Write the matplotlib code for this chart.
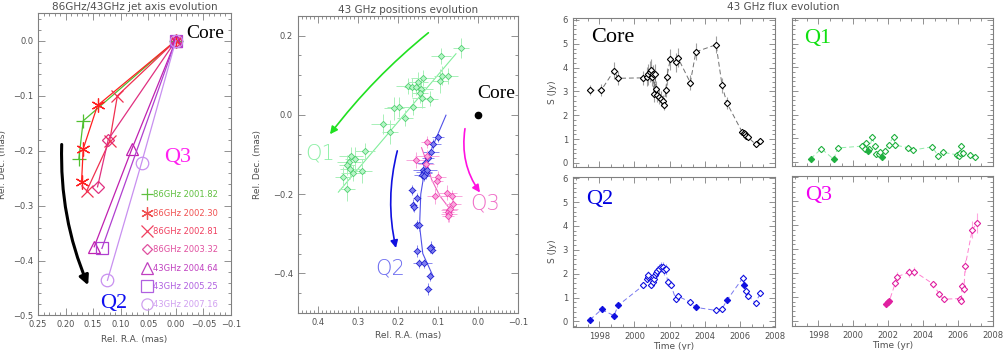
import numpy as np
import matplotlib.pyplot as plt
from matplotlib.patches import FancyArrowPatch
from matplotlib.lines import Line2D
from matplotlib.ticker import AutoMinorLocator, FixedLocator

plt.rcParams['font.family'] = ['DejaVu Sans']

GREY = '#505050'
AXC = '#808080'
SERIF = ['Liberation Serif', 'DejaVu Serif']

# ---------------- panel 1: jet axis per epoch ----------------
jet_labels = ['86GHz 2001.82', '86GHz 2002.30', '86GHz 2002.81', '86GHz 2003.32',
              '43GHz 2004.64', '43GHz 2005.25', '43GHz 2007.16']
jet_ra = [[0.0, 0.168, 0.176],
          [0.0, 0.142, 0.168, 0.171],
          [0.0, 0.106, 0.120, 0.162],
          [0.0, 0.1226, 0.142],
          [0.0, 0.080, 0.148],
          [0.0, 0.134],
          [0.0, 0.062, 0.124]]
jet_dec = [[0.0, -0.146, -0.216],
           [0.0, -0.118, -0.197, -0.258],
           [0.0, -0.1005, -0.183, -0.274],
           [0.0, -0.180, -0.266],
           [0.0, -0.198, -0.375],
           [0.0, -0.378],
           [0.0, -0.222, -0.436]]
jet_markers = ['+', (6, 2, 0), 'x', 'D', '^', 's', 'o']
jet_msize = [10, 10, 9, 6, 9, 9, 9]
jet_colors = ['#50C030', '#FF2020', '#F03050', '#E03080', '#C020B0', '#B040D0', '#C890F0']
jet_text_colors = ['#60C040', '#F05050', '#F04060', '#E050A0', '#C040C0', '#B060E0', '#D0A0F0']

arrow1_start = (0.207, -0.189)
arrow1_end = (0.159, -0.445)

# ---------------- panel 2: 43 GHz positions ----------------
q1_ra = [0.043, 0.093, 0.089, 0.076, 0.096, 0.137, 0.149, 0.174, 0.165, 0.156, 0.143,
         0.145, 0.120, 0.141, 0.162, 0.197, 0.210, 0.183, 0.237, 0.220, 0.283, 0.318,
         0.308, 0.3225, 0.328, 0.289, 0.312, 0.320, 0.337, 0.328]
q1_dec = [0.168, 0.149, 0.099, 0.097, 0.086, 0.093, 0.084, 0.073, 0.069, 0.069, 0.065,
          0.054, 0.041, 0.042, 0.019, 0.020, 0.016, -0.008, -0.024, -0.043, -0.091, -0.105,
          -0.112, -0.118, -0.127, -0.142, -0.146, -0.1375, -0.156, -0.188]
q1_era = [0.02, 0.025, 0.02, 0.025, 0.02, 0.03, 0.025, 0.03, 0.02, 0.025, 0.03,
          0.02, 0.02, 0.025, 0.03, 0.03, 0.025, 0.02, 0.03, 0.02, 0.025, 0.03,
          0.025, 0.03, 0.02, 0.025, 0.03, 0.025, 0.02, 0.02]
q1_edec = [0.025, 0.02, 0.025, 0.02, 0.03, 0.02, 0.025, 0.02, 0.025, 0.02, 0.03,
           0.025, 0.02, 0.025, 0.02, 0.025, 0.03, 0.02, 0.025, 0.03, 0.02, 0.025,
           0.03, 0.02, 0.025, 0.03, 0.02, 0.025, 0.025, 0.03]
q1_fit_ra = [0.349, 0.055]
q1_fit_dec = [-0.195, 0.154]

q2_ra = [0.101, 0.112, 0.118, 0.124, 0.1325, 0.138, 0.135, 0.131, 0.140, 0.128, 0.136,
         0.166, 0.153, 0.162, 0.160, 0.153, 0.1475, 0.118, 0.116, 0.120, 0.153, 0.1475,
         0.134, 0.120, 0.124]
q2_dec = [-0.057, -0.074, -0.095, -0.108, -0.121, -0.138, -0.145, -0.148, -0.152, -0.140, -0.155,
          -0.190, -0.209, -0.2286, -0.232, -0.277, -0.279, -0.333, -0.340, -0.337, -0.344, -0.375,
          -0.375, -0.406, -0.439]
q2_era = [0.015, 0.02, 0.02, 0.015, 0.02, 0.025, 0.02, 0.015, 0.02, 0.025, 0.015,
          0.01, 0.01, 0.01, 0.01, 0.01, 0.01, 0.01, 0.01, 0.01, 0.01, 0.015,
          0.02, 0.01, 0.01]
q2_edec = [0.012, 0.012, 0.015, 0.012, 0.015, 0.015, 0.012, 0.015, 0.012, 0.015, 0.012,
           0.012, 0.012, 0.015, 0.012, 0.012, 0.015, 0.015, 0.012, 0.012, 0.015, 0.012,
           0.012, 0.012, 0.015]
q2_fit_ra = [0.080, 0.105, 0.130, 0.143, 0.146, 0.138, 0.112]
q2_fit_dec = [-0.001, -0.060, -0.120, -0.200, -0.280, -0.350, -0.408]

q3_ra = [0.128, 0.155, 0.128, 0.130, 0.099, 0.103, 0.1075, 0.078, 0.066, 0.063, 0.0725,
         0.075, 0.073, 0.070, 0.074]
q3_dec = [-0.068, -0.114, -0.104, -0.125, -0.156, -0.167, -0.205, -0.196, -0.205, -0.226, -0.241,
          -0.245, -0.250, -0.237, -0.256]
q3_era = [0.015, 0.025, 0.03, 0.02, 0.02, 0.015, 0.02, 0.025, 0.025, 0.02, 0.02,
          0.015, 0.02, 0.02, 0.015]
q3_edec = [0.015, 0.02, 0.015, 0.02, 0.015, 0.015, 0.02, 0.02, 0.015, 0.015, 0.02,
           0.015, 0.02, 0.015, 0.015]
q3_fit_ra = [0.141, 0.128, 0.116, 0.095, 0.066]
q3_fit_dec = [-0.083, -0.120, -0.163, -0.205, -0.243]

arrow_q1 = [(0.124, 0.207), (0.370, -0.049)]
arrow_q2 = [(0.2017, -0.091), (0.205, -0.336)]
arrow_q3 = [(0.0325, -0.035), (-0.005, -0.196)]

# ---------------- panel 3: 43 GHz flux ----------------
core_t = [1997.45, 1998.11, 1998.84, 1999.07, 2000.51, 2000.69, 2000.80, 2000.87, 2000.95,
          2001.02, 2001.07, 2001.12, 2001.16, 2001.22, 2001.26, 2001.41, 2001.50, 2001.60,
          2001.70, 2001.79, 2001.85, 2002.04, 2002.36, 2002.47, 2003.18, 2003.50, 2004.65,
          2004.99, 2005.26, 2006.13, 2006.21, 2006.29, 2006.36, 2006.44, 2006.90, 2007.16]
core_s = [3.05, 3.05, 3.87, 3.55, 3.57, 3.62, 3.72, 3.83, 3.90,
          3.62, 3.72, 2.90, 3.75, 3.12, 2.85, 2.76, 2.70, 2.60,
          2.45, 3.05, 3.62, 4.35, 4.22, 4.42, 3.37, 4.66, 4.96,
          3.25, 2.52, 1.30, 1.25, 1.20, 1.15, 1.10, 0.78, 0.90]
core_e = [0.22, 0.25, 0.35, 0.30, 0.30, 0.40, 0.45, 0.45, 0.45,
          0.40, 0.40, 0.35, 0.40, 0.30, 0.30, 0.30, 0.30, 0.25,
          0.25, 0.30, 0.35, 0.45, 0.40, 0.40, 0.30, 0.35, 0.35,
          0.30, 0.25, 0.10, 0.10, 0.10, 0.10, 0.10, 0.06, 0.06]

q1f_t = [1997.57, 1998.18, 1998.89, 1999.11, 2000.50, 2000.65, 2000.74, 2000.83, 2000.92,
         2001.09, 2001.24, 2001.29, 2001.46, 2001.56, 2001.67, 2001.79, 2002.02, 2002.31,
         2002.40, 2003.13, 2003.40, 2004.52, 2004.85, 2005.13, 2005.96, 2006.06, 2006.10,
         2006.15, 2006.29, 2006.70, 2006.98]
q1f_s = [0.14, 0.56, 0.11, 0.59, 0.67, 0.56, 0.80, 0.45, 0.54,
         1.06, 0.67, 0.32, 0.32, 0.42, 0.21, 0.46, 0.73, 1.06,
         0.71, 0.61, 0.50, 0.64, 0.27, 0.41, 0.30, 0.27, 0.40,
         0.69, 0.40, 0.30, 0.23]
q1f_e = [0.05, 0.08, 0.05, 0.08, 0.08, 0.08, 0.10, 0.08, 0.08,
         0.12, 0.10, 0.08, 0.08, 0.08, 0.06, 0.08, 0.10, 0.12,
         0.10, 0.08, 0.08, 0.08, 0.06, 0.06, 0.06, 0.06, 0.06,
         0.10, 0.06, 0.05, 0.05]
q1f_fill = [1, 0, 1, 0, 0, 0, 0, 1, 0, 0, 0, 0, 0, 0, 1, 0, 0, 0, 0, 0, 0, 0, 0, 0, 0, 0, 0, 0, 0, 0, 0]

q2f_t = [1997.47, 1998.13, 1998.84, 1999.07, 2000.51, 2000.69, 2000.76, 2000.80, 2000.95,
         2001.03, 2001.09, 2001.18, 2001.22, 2001.31, 2001.41, 2001.50, 2001.60, 2001.71,
         2001.79, 2001.89, 2002.07, 2002.36, 2002.47, 2003.18, 2003.49, 2004.65, 2004.99,
         2005.26, 2006.17, 2006.23, 2006.36, 2006.47, 2006.90, 2007.16]
q2f_s = [0.07, 0.50, 0.24, 0.67, 1.51, 1.79, 1.86, 1.93, 1.51,
         1.65, 1.76, 1.93, 2.04, 2.11, 2.21, 2.28, 2.28, 2.14,
         2.21, 1.65, 1.54, 0.92, 1.06, 0.81, 0.59, 0.46, 0.53,
         0.88, 1.82, 1.54, 1.26, 1.06, 0.78, 1.17]
q2f_e = [0.05, 0.06, 0.05, 0.06, 0.12, 0.15, 0.15, 0.18, 0.12,
         0.15, 0.15, 0.18, 0.18, 0.2, 0.2, 0.22, 0.22, 0.2,
         0.2, 0.15, 0.15, 0.1, 0.1, 0.08, 0.06, 0.05, 0.05,
         0.08, 0.18, 0.15, 0.12, 0.1, 0.06, 0.08]
q2f_fill = [1, 1, 1, 1, 0, 0, 0, 0, 0, 0, 0, 0, 0, 0, 0, 0, 0, 0,
            0, 0, 0, 0, 0, 0, 1, 0, 0, 1, 0, 1, 0, 0, 0, 0]

q3f_t = [2001.85, 2001.98, 2002.07, 2002.40, 2002.48, 2003.18, 2003.50, 2004.59, 2004.92,
         2005.18, 2006.09, 2006.18, 2006.24, 2006.33, 2006.41, 2006.81, 2007.09]
q3f_s = [0.72, 0.79, 0.84, 1.56, 1.84, 2.02, 2.06, 1.53, 1.11,
         0.90, 0.93, 0.84, 1.46, 1.32, 2.30, 3.81, 4.09]
q3f_e = [0.06, 0.06, 0.06, 0.15, 0.18, 0.2, 0.2, 0.15, 0.12,
         0.1, 0.1, 0.1, 0.15, 0.15, 0.25, 0.35, 0.4]
q3f_fill = [1, 1, 1, 0, 0, 0, 0, 0, 0, 0, 0, 0, 0, 0, 0, 0, 0]


def style(ax, nx, ny, lab=6):
    for s in ax.spines.values():
        s.set_color(AXC)
        s.set_linewidth(0.8)
    ax.tick_params(which='both', direction='in', top=True, right=True,
                   color=AXC, labelcolor=GREY, labelsize=lab, width=0.6)
    ax.tick_params(which='major', length=5)
    ax.tick_params(which='minor', length=2.5)
    ax.xaxis.set_minor_locator(AutoMinorLocator(nx))
    ax.yaxis.set_minor_locator(AutoMinorLocator(ny))


def arrow(ax, p0, p1, color, rad, lw=1.6, ms=10):
    a = FancyArrowPatch(p0, p1, connectionstyle=f'arc3,rad={rad}',
                        arrowstyle='-|>', mutation_scale=ms, lw=lw,
                        color=color, shrinkA=0, shrinkB=0)
    ax.add_patch(a)


fig = plt.figure(figsize=(10.05, 3.5), dpi=100)

# ---- panel 1
ax1 = fig.add_axes([0.0378, 0.0986, 0.192, 0.864])
style(ax1, 5, 5)
ax1.set_xlim(0.25, -0.1)
ax1.set_ylim(-0.5, 0.05)
xt1 = [0.25, 0.20, 0.15, 0.10, 0.05, 0.0, -0.05, -0.1]
ax1.xaxis.set_major_locator(FixedLocator(xt1))
ax1.set_xticklabels(['0.25', '0.20', '0.15', '0.10', '0.05', '0.00', '\u22120.05', '\u22120.1'])
yt1 = [0.0, -0.1, -0.2, -0.3, -0.4, -0.5]
ax1.yaxis.set_major_locator(FixedLocator(yt1))
ax1.set_yticklabels(['0.0', '\u22120.1', '\u22120.2', '\u22120.3', '\u22120.4', '\u22120.5'])

handles = []
for ra, dec, m, ms, c, lab, tc in zip(jet_ra, jet_dec, jet_markers, jet_msize,
                                      jet_colors, jet_labels, jet_text_colors):
    ax1.plot(ra, dec, color=c, lw=0.9, marker=m, ms=ms, mfc='none', mec=c, mew=0.9)
    handles.append(Line2D([], [], ls='none', marker=m, ms=ms * 0.9, mfc='none', mec=tc,
                          mew=0.9, label=lab))
leg = ax1.legend(handles=handles, loc='upper left', bbox_to_anchor=(0.525, 0.425),
                 frameon=False, fontsize=6, handlelength=1.0, handletextpad=0.3,
                 labelspacing=1.12, borderaxespad=0)
for t, tc in zip(leg.get_texts(), jet_text_colors):
    t.set_color(tc)

arrow(ax1, arrow1_start, arrow1_end, 'black', 0.11, lw=2.2, ms=14)
ax1.text(0.865, 0.934, 'Core', transform=ax1.transAxes, family=SERIF, fontsize=14,
         ha='center', va='center', color='black')
ax1.text(0.723, 0.524, 'Q3', transform=ax1.transAxes, family=SERIF, fontsize=16,
         ha='center', va='center', color='#FF20F0')
ax1.text(0.394, 0.041, 'Q2', transform=ax1.transAxes, family=SERIF, fontsize=16,
         ha='center', va='center', color='#1010F0')
ax1.set_title('86GHz/43GHz jet axis evolution', fontsize=7.5, color=GREY, pad=2)
ax1.set_xlabel('Rel. R.A. (mas)', fontsize=6.5, color=GREY, labelpad=4)
ax1.set_ylabel('Rel. Dec. (mas)', fontsize=6.5, color=GREY)
ax1.yaxis.set_label_coords(-0.16, 0.5)

# ---- panel 2
ax2 = fig.add_axes([0.2965, 0.1057, 0.2189, 0.8494])
style(ax2, 10, 4)
ax2.set_xlim(0.45, -0.1)
ax2.set_ylim(-0.5, 0.25)
xt2 = [0.4, 0.3, 0.2, 0.1, 0.0, -0.1]
ax2.xaxis.set_major_locator(FixedLocator(xt2))
ax2.set_xticklabels(['0.4', '0.3', '0.2', '0.1', '0.0', '\u22120.1'])
yt2 = [0.2, 0.0, -0.2, -0.4]
ax2.yaxis.set_major_locator(FixedLocator(yt2))
ax2.set_yticklabels(['0.2', '0.0', '\u22120.2', '\u22120.4'])

ax2.plot(q1_fit_ra, q1_fit_dec, color='#80EE9A', lw=0.8)
ax2.errorbar(q1_ra, q1_dec, xerr=q1_era, yerr=q1_edec, fmt='D', ms=3.2,
             mfc='#B8F5C8', mec='#50D070', mew=0.6, ecolor='#A8F0B8', elinewidth=0.7, capsize=0)
ax2.plot(q2_fit_ra, q2_fit_dec, color='#5050E8', lw=0.8)
ax2.errorbar(q2_ra, q2_dec, xerr=q2_era, yerr=q2_edec, fmt='D', ms=3.2,
             mfc='#8080F0', mec='#2020D0', mew=0.6, ecolor='#8888F0', elinewidth=0.7, capsize=0)
ax2.plot(q3_fit_ra, q3_fit_dec, color='#F060C0', lw=0.8)
ax2.errorbar(q3_ra, q3_dec, xerr=q3_era, yerr=q3_edec, fmt='D', ms=3.2,
             mfc='#F8A8DC', mec='#F040B0', mew=0.6, ecolor='#F8A8DC', elinewidth=0.7, capsize=0)
ax2.plot([0.0], [0.0], 'o', color='black', ms=4.5)

arrow(ax2, arrow_q1[0], arrow_q1[1], '#20E020', 0.06, lw=1.2, ms=11)
arrow(ax2, arrow_q2[0], arrow_q2[1], '#1010E0', 0.12, lw=1.2, ms=11)
arrow(ax2, arrow_q3[0], arrow_q3[1], '#FF10E0', 0.2, lw=1.2, ms=11)

ax2.text(0.902, 0.74, 'Core', transform=ax2.transAxes, family=SERIF, fontsize=14,
         ha='center', va='center', color='black')
ax2.text(0.10, 0.538, 'Q1', transform=ax2.transAxes, fontsize=15, fontweight='light',
         ha='center', va='center', color='#90F0A8')
ax2.text(0.42, 0.151, 'Q2', transform=ax2.transAxes, fontsize=15, fontweight='light',
         ha='center', va='center', color='#7070F0')
ax2.text(0.85, 0.37, 'Q3', transform=ax2.transAxes, fontsize=15, fontweight='light',
         ha='center', va='center', color='#F070C8')
ax2.set_title('43 GHz positions evolution', fontsize=7.5, color=GREY, pad=2)
ax2.set_xlabel('Rel. R.A. (mas)', fontsize=6.5, color=GREY, labelpad=3)
ax2.set_ylabel('Rel. Dec. (mas)', fontsize=6.5, color=GREY)
ax2.yaxis.set_label_coords(-0.165, 0.5)

# ---- panel 3: flux
axTL = fig.add_axes([0.5701, 0.5229, 0.201, 0.4257])
axTR = fig.add_axes([0.7881, 0.5257, 0.200, 0.4229])
axBL = fig.add_axes([0.5701, 0.0666, 0.201, 0.4286])
axBR = fig.add_axes([0.7881, 0.0686, 0.200, 0.4286])

series = [
    (axTL, core_t, core_s, core_e, [0] * len(core_t), 'black', '#707070', '#A0A0A0'),
    (axTR, q1f_t, q1f_s, q1f_e, q1f_fill, '#20B040', '#90EBA8', '#A8F0B8'),
    (axBL, q2f_t, q2f_s, q2f_e, q2f_fill, '#1010E0', '#7878F0', '#A0A0F5'),
    (axBR, q3f_t, q3f_s, q3f_e, q3f_fill, '#E020A0', '#FF80D0', '#FFA8E0'),
]
for ax, t, s, e, fill, mcol, lcol, ecol in series:
    style(ax, 3, 5)
    ax.tick_params(which='major', length=4)
    ax.tick_params(which='minor', length=2)
    ax.set_xlim(1996.5, 2008)
    ax.set_xticks([1998, 2000, 2002, 2004, 2006, 2008])
    ax.set_yticks([0, 1, 2, 3, 4, 5, 6])
    t = np.array(t)
    s = np.array(s)
    fill = np.array(fill, bool)
    ax.errorbar(t, s, yerr=e, fmt='none', ecolor=ecol, elinewidth=0.8, capsize=0, zorder=1)
    ax.plot(t, s, ls=(0, (5, 3)), color=lcol, lw=0.7, zorder=2)
    ax.plot(t[~fill], s[~fill], 'D', ms=3.2, mfc='white', mec=mcol, mew=0.8, ls='none', zorder=3)
    ax.plot(t[fill], s[fill], 'D', ms=3.2, mfc=mcol, mec=mcol, mew=0.8, ls='none', zorder=3)

axTL.set_ylim(-0.17, 6.08)
axTR.set_ylim(-0.17, 6.08)
axBL.set_ylim(-0.22, 6.06)
axBR.set_ylim(-0.22, 6.06)
for ax in (axTL, axTR):
    ax.tick_params(labelbottom=False)
for ax in (axTR, axBR):
    ax.tick_params(labelleft=False)
for ax in (axTL, axBL):
    ax.set_ylabel('S (Jy)', fontsize=6.5, color=GREY, labelpad=4)
for ax in (axBL, axBR):
    ax.set_xlabel('Time (yr)', fontsize=6.5, color=GREY, labelpad=1)

axTL.text(0.198, 0.868, 'Core', transform=axTL.transAxes, family=SERIF, fontsize=16,
          ha='center', va='center', color='black')
axTR.text(0.13, 0.863, 'Q1', transform=axTR.transAxes, family=SERIF, fontsize=16,
          ha='center', va='center', color='#10E010')
axBL.text(0.134, 0.845, 'Q2', transform=axBL.transAxes, family=SERIF, fontsize=16,
          ha='center', va='center', color='#0000E0')
axBR.text(0.13, 0.873, 'Q3', transform=axBR.transAxes, family=SERIF, fontsize=16,
          ha='center', va='center', color='#F000F0')
fig.text(0.779, 0.98, '43 GHz flux evolution', fontsize=7.5, color=GREY,
         ha='center', va='center')

fig.savefig('out.png', dpi=100)
